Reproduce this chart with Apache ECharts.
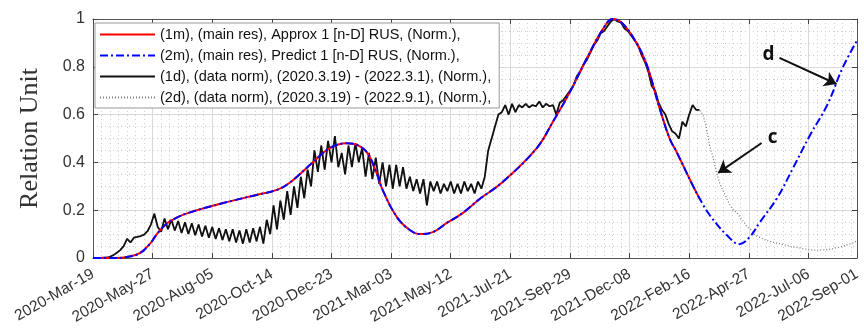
<!DOCTYPE html>
<html><head><meta charset="utf-8">
<script src="https://cdn.jsdelivr.net/npm/echarts@6/dist/echarts.min.js"></script>
<style>html,body{margin:0;padding:0;background:#fff}#c{width:864px;height:333px}</style>
</head><body><div id="c"></div>
<script>
// x tick labels (every 70 days from 2020-03-19, last = axis end)
const xTickLabels = ['2020-Mar-19','2020-May-27','2020-Aug-05','2020-Oct-14','2020-Dec-23','2021-Mar-03','2021-May-12','2021-Jul-21','2021-Sep-29','2021-Dec-08','2022-Feb-16','2022-Apr-27','2022-Jul-06','2022-Sep-01'];
const yTickLabels = ['0','0.2','0.4','0.6','0.8','1'];

const seriesNames = [
  '(1m), (main res), Approx 1 [n-D] RUS, (Norm.),',
  '(2m), (main res), Predict 1 [n-D] RUS, (Norm.),',
  '(1d), (data norm), (2020.3.19) - (2022.3.1), (Norm.),',
  '(2d), (data norm), (2020.3.19) - (2022.9.1), (Norm.),'
];

// model curve (days since 2020-03-19, value)
const modelDays = [0,26,40,55,67,75,87,99,113,153,192,216,231,258,278,298,310,322,333,340,357,372,384,399,415,434,454,481,521,540,560,580,599,610,622,638,650,665,677,685,704,712,724,744,759,771,783,803,822,842,862,880,897];
const modelVals = [0,0,0.004,0.02,0.06,0.10,0.145,0.17,0.19,0.23,0.264,0.285,0.315,0.40,0.46,0.48,0.473,0.44,0.355,0.285,0.17,0.117,0.10,0.108,0.146,0.188,0.247,0.318,0.46,0.57,0.695,0.837,0.96,1.0,0.98,0.90,0.81,0.63,0.50,0.445,0.305,0.25,0.18,0.096,0.058,0.088,0.15,0.25,0.377,0.515,0.64,0.795,0.91];
const approxEndDay = 712;  // 2022-03-01

// normalised data, one value every 4 days from day 0 to day 712
const dataStep = 4;
const dataVals = [
  0,0,0,0.001,0.002,0.005,0.012,0.022,0.033,0.05,
  0.08,0.065,0.085,0.088,0.092,0.098,0.112,0.14,0.185,0.13,
  0.11,0.165,0.12,0.16,0.115,0.155,0.105,0.15,0.1,0.145,
  0.095,0.14,0.09,0.135,0.085,0.13,0.08,0.125,0.075,0.12,
  0.07,0.12,0.065,0.115,0.06,0.12,0.065,0.125,0.07,0.13,
  0.06,0.16,0.1,0.22,0.12,0.24,0.16,0.28,0.18,0.3,
  0.21,0.34,0.25,0.37,0.3,0.45,0.36,0.47,0.37,0.49,
  0.4,0.51,0.38,0.44,0.35,0.47,0.38,0.48,0.4,0.46,
  0.34,0.44,0.33,0.42,0.31,0.4,0.3,0.39,0.29,0.39,
  0.3,0.38,0.29,0.34,0.28,0.33,0.27,0.33,0.22,0.32,
  0.28,0.32,0.27,0.31,0.28,0.32,0.27,0.31,0.27,0.32,
  0.28,0.31,0.27,0.32,0.29,0.34,0.45,0.5,0.55,0.6,
  0.61,0.64,0.6,0.645,0.61,0.64,0.63,0.645,0.63,0.64,
  0.635,0.655,0.63,0.645,0.635,0.64,0.6,0.65,0.66,0.68,
  0.7,0.72,0.76,0.78,0.81,0.83,0.86,0.89,0.91,0.94,
  0.95,0.97,0.99,1.0,0.99,0.985,0.96,0.95,0.93,0.91,
  0.89,0.85,0.82,0.78,0.72,0.7,0.65,0.62,0.6,0.56,
  0.53,0.52,0.5,0.57,0.55,0.6,0.64,0.62,0.62
];
// extended data (days 716..896, every 4 days)
const extVals = [
  0.6,0.55,0.47,0.42,0.36,0.31,0.28,0.25,0.22,0.2,
  0.19,0.17,0.15,0.13,0.12,0.1,0.09,0.085,0.078,0.072,
  0.068,0.065,0.062,0.058,0.055,0.052,0.048,0.045,0.043,0.04,
  0.037,0.035,0.034,0.033,0.033,0.034,0.035,0.036,0.038,0.042,
  0.045,0.048,0.053,0.058,0.063,0.07
];

// annotation arrows
const annoLabels = ['d','c'];
const annoText = [[793,0.85],[798,0.505]];
const annoFrom = [[806,0.837],[785,0.481]];
const annoTo = [[873,0.728],[734,0.356]];

const xMax = 897, xInterval = 70;

const modelPairs = modelDays.map((d,i)=>[d,modelVals[i]]);
const approxPairs = modelPairs.filter(p=>p[0]<=approxEndDay);
const dataPairs = dataVals.map((v,i)=>[i*dataStep,v]);
const extPairs = dataPairs.concat(extVals.map((v,i)=>[approxEndDay+(i+1)*dataStep,v]));

const chart = echarts.init(document.getElementById('c'));
const fontSans = 'Liberation Sans, Arial, Helvetica, sans-serif';
const axisCol = '#333';
const baseX = {
  type:'value', min:0, max:xMax, interval:xInterval,
  axisLine:{show:true,onZero:false,lineStyle:{color:'#555',width:1}},
  axisTick:{show:true,inside:true,length:5,lineStyle:{color:'#444'}},
  minorTick:{show:false,splitNumber:7},
};
const baseY = {
  type:'value', min:0, max:1, interval:0.2,
  axisLine:{show:true,onZero:false,lineStyle:{color:'#555',width:1}},
  axisTick:{show:true,inside:true,length:5,lineStyle:{color:'#444'}},
  minorTick:{show:false,splitNumber:4},
};
chart.setOption({
  animation:false,
  backgroundColor:'#fff',
  grid:{left:93,right:7,top:19,bottom:75,containLabel:false},
  legend:{
    orient:'vertical', left:95, top:23, itemWidth:55, itemHeight:12, itemGap:6,
    padding:[4,8,3,4], borderColor:'#999', borderWidth:1, backgroundColor:'#fff',
    textStyle:{fontSize:14.5,fontFamily:fontSans,color:'#111'},
    itemStyle:{opacity:0},
    data:seriesNames
  },
  xAxis:[
    Object.assign({}, baseX, {
      position:'bottom',
      axisLabel:{show:true,rotate:30,margin:15,fontSize:15.5,fontFamily:fontSans,color:axisCol,
        showMaxLabel:true,
        formatter:function(v){ if(v>=xMax-1) return xTickLabels[xTickLabels.length-1]; return xTickLabels[Math.round(v/xInterval)]||''; }},
      splitLine:{show:true,lineStyle:{color:'#dadada',width:1}},
      minorSplitLine:{show:true,lineStyle:{color:'#cfcfcf',type:[1,3],width:1}}
    }),
    Object.assign({}, baseX, {position:'top', axisLabel:{show:false}, splitLine:{show:false}})
  ],
  yAxis:[
    Object.assign({}, baseY, {
      position:'left',
      name:'Relation Unit', nameLocation:'middle', nameGap:50,
      nameTextStyle:{fontFamily:'Liberation Serif, Times New Roman, serif',fontSize:26,color:'#333'},
      axisLabel:{show:true,fontSize:16,fontFamily:fontSans,color:axisCol,margin:8,
        formatter:function(v){return yTickLabels[Math.round(v/0.2)];}},
      splitLine:{show:true,lineStyle:{color:'#dadada',width:1}},
      minorSplitLine:{show:true,lineStyle:{color:'#cfcfcf',type:[1,3],width:1}}
    }),
    Object.assign({}, baseY, {position:'right', axisLabel:{show:false}, splitLine:{show:false}})
  ],
  series:[
    {name:seriesNames[0], type:'line', data:approxPairs, smooth:0.4, showSymbol:false, symbol:'none', z:5,
      lineStyle:{color:'#ff0000',width:2}, itemStyle:{color:'#ff0000'}},
    {name:seriesNames[1], type:'line', data:modelPairs, smooth:0.4, showSymbol:false, symbol:'none', z:6,
      lineStyle:{color:'#0000ff',width:2,type:[8,3,2,3]}, itemStyle:{color:'#0000ff'},
      markLine:{silent:true, symbol:['none','arrow'], symbolSize:12, animation:false,
        label:{show:false},
        lineStyle:{color:'#111',width:2,type:'solid'},
        itemStyle:{color:'#111'},
        data:annoFrom.map((f,i)=>[{coord:f},{coord:annoTo[i]}])},
      markPoint:{silent:true, symbol:'circle', symbolSize:0,
        label:{show:true,position:'inside',fontSize:19,fontWeight:'bold',color:'#111',fontFamily:'Open Sans, DejaVu Sans, sans-serif',
          formatter:function(p){return p.name;}},
        data:annoText.map((t,i)=>({name:annoLabels[i],coord:t}))}
    },
    {name:seriesNames[2], type:'line', data:dataPairs, showSymbol:false, symbol:'none', z:4,
      lineStyle:{color:'#111',width:1.8}, itemStyle:{color:'#111'}},
    {name:seriesNames[3], type:'line', data:extPairs, showSymbol:false, symbol:'none', z:3,
      lineStyle:{color:'#7a847a',width:1.3,type:[1,2]}, itemStyle:{color:'#7a847a'}}
  ]
});
</script>
</body></html>
